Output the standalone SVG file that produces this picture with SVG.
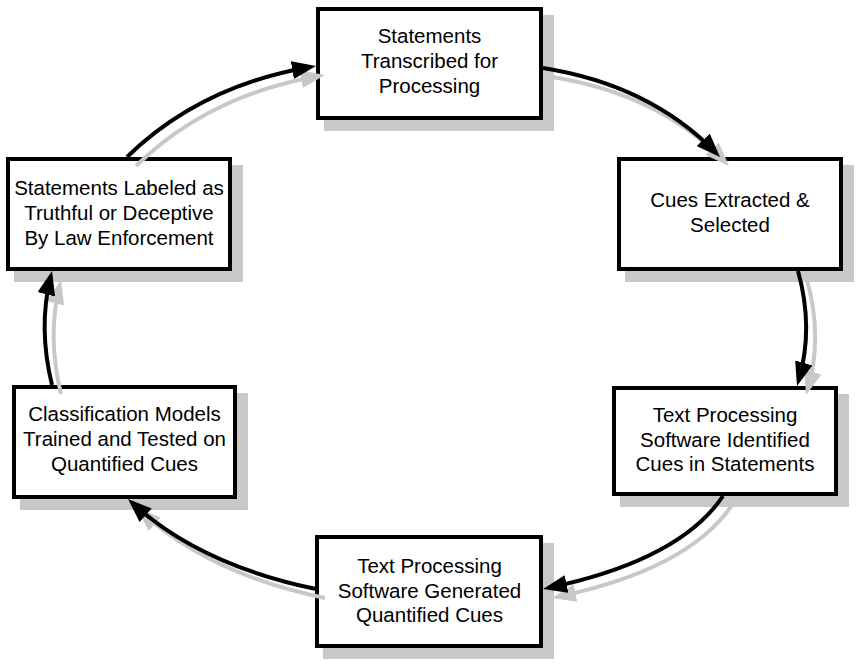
<svg xmlns="http://www.w3.org/2000/svg" width="862" height="666" viewBox="0 0 862 666">
<style>
.shadow{fill:#c8c8c8}
.box{fill:#fff;stroke:#000;stroke-width:4}
.lbl{font-family:"Liberation Sans",Arial,sans-serif;font-size:20.5px;fill:#000;text-anchor:middle}
.conn{fill:none;stroke:#000;stroke-width:4;marker-end:url(#ah)}
.connS{fill:none;stroke:#c8c8c8;stroke-width:4;marker-end:url(#ahs)}
</style>
<defs>
<marker id="ah" viewBox="0 0 24 18" refX="18" refY="9" markerWidth="24" markerHeight="18" markerUnits="userSpaceOnUse" orient="auto"><path d="M0,0 L24,9 L0,18 z" fill="#000"/></marker>
<marker id="ahs" viewBox="0 0 24 18" refX="18" refY="9" markerWidth="24" markerHeight="18" markerUnits="userSpaceOnUse" orient="auto"><path d="M0,0 L24,9 L0,18 z" fill="#c8c8c8"/></marker>
</defs>
<rect width="862" height="666" fill="#fff"/>

<g id="node-transcribed">
<rect class="shadow" x="324" y="15" width="230" height="116"/>
<rect class="box" x="318" y="9" width="223" height="109"/>
<text class="lbl" x="429.5" y="43">Statements</text>
<text class="lbl" x="429.5" y="68">Transcribed for</text>
<text class="lbl" x="429.5" y="93">Processing</text>
</g>

<g id="node-cues">
<rect class="shadow" x="625" y="165" width="229" height="117"/>
<rect class="box" x="619" y="159" width="222" height="110"/>
<text class="lbl" x="730" y="207">Cues Extracted &amp;</text>
<text class="lbl" x="730" y="232">Selected</text>
</g>

<g id="node-identified">
<rect class="shadow" x="620" y="394" width="229" height="113"/>
<rect class="box" x="614" y="388" width="222" height="106"/>
<text class="lbl" x="725" y="422">Text Processing</text>
<text class="lbl" x="725" y="446.5">Software Identified</text>
<text class="lbl" x="725" y="471">Cues in Statements</text>
</g>

<g id="node-generated">
<rect class="shadow" x="323" y="543" width="231" height="116"/>
<rect class="box" x="317" y="537" width="224" height="109"/>
<text class="lbl" x="429.5" y="573">Text Processing</text>
<text class="lbl" x="429.5" y="597.5">Software Generated</text>
<text class="lbl" x="429.5" y="622">Quantified Cues</text>
</g>

<g id="node-classification">
<rect class="shadow" x="20" y="393" width="228" height="117"/>
<rect class="box" x="14" y="387" width="221" height="110"/>
<text class="lbl" x="124.5" y="421">Classification Models</text>
<text class="lbl" x="124.5" y="446">Trained and Tested on</text>
<text class="lbl" x="124.5" y="471">Quantified Cues</text>
</g>

<g id="node-labeled">
<rect class="shadow" x="14" y="165" width="229" height="117"/>
<rect class="box" x="8" y="159" width="222" height="110"/>
<text class="lbl" x="119" y="195">Statements Labeled as</text>
<text class="lbl" x="119" y="220">Truthful or Deceptive</text>
<text class="lbl" x="119" y="245">By Law Enforcement</text>
</g>

<g id="connectors">
<g transform="translate(9,9)">
<path class="connS" d="M127,157 Q200,86 310.1,67"/>
<path class="connS" d="M543,68 Q650,85 715.8,152.7"/>
<path class="connS" d="M798,271 Q814,328 798.7,380.2"/>
<path class="connS" d="M723,496 Q680,560 548.9,587.8"/>
<path class="connS" d="M316,589 Q200,565 132.4,503.1"/>
<path class="connS" d="M52,385 Q38,328 50.6,276.8"/>
</g>
<path class="conn" d="M127,157 Q200,86 310.1,67"/>
<path class="conn" d="M543,68 Q650,85 715.8,152.7"/>
<path class="conn" d="M798,271 Q814,328 798.7,380.2"/>
<path class="conn" d="M723,496 Q680,560 548.9,587.8"/>
<path class="conn" d="M316,589 Q200,565 132.4,503.1"/>
<path class="conn" d="M52,385 Q38,328 50.6,276.8"/>
</g>
</svg>
